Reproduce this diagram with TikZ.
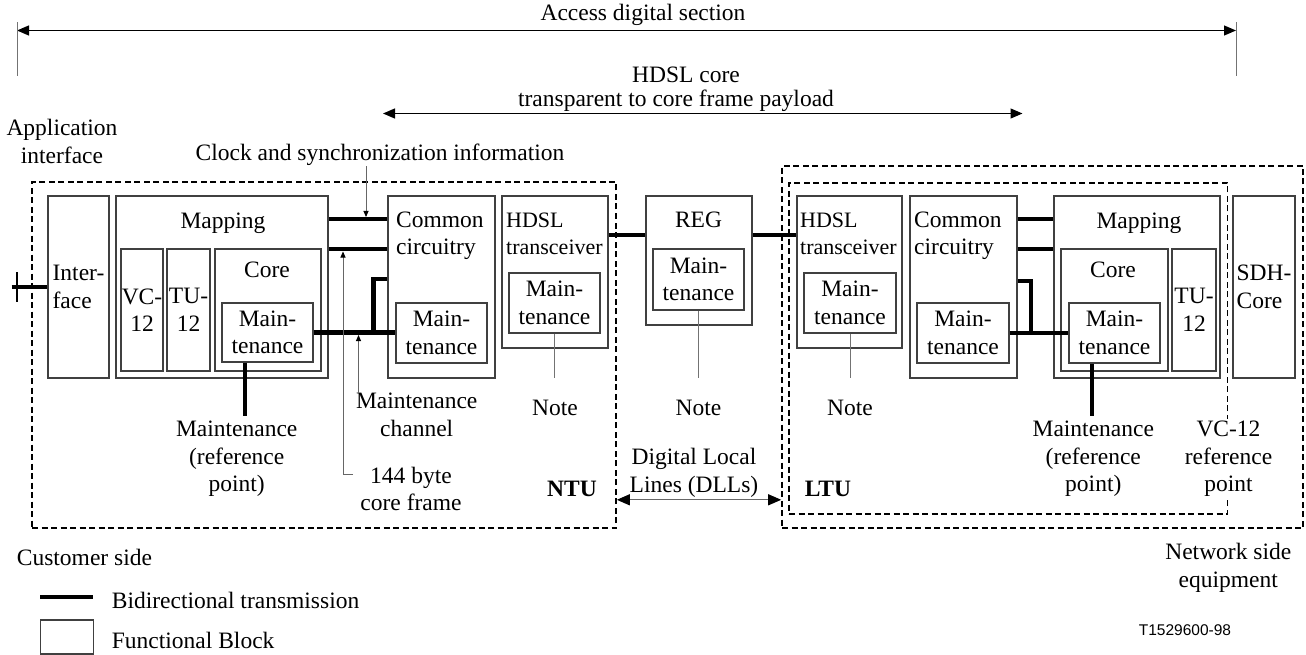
\documentclass[tikz,border=0pt]{standalone}
\usepackage{fontspec}
\setmainfont{Liberation Serif}
\newfontfamily\figsans{Liberation Sans}
\usetikzlibrary{arrows.meta, positioning}

\begin{document}
\begin{tikzpicture}[x=1pt, y=-1pt,
  font=\fontsize{23.5}{27.5}\selectfont,
  fblock/.style={draw=black!75, line width=1.1pt, inner sep=0pt, align=center},
  unitbox/.style={draw, line width=1.6pt, dash pattern=on 6pt off 3.5pt, inner sep=0pt},
  bidir/.style={line width=4.3pt},
  pointer/.style={draw=black!60, line width=0.9pt, -{Triangle[length=6pt, width=5pt, color=black]}},
  noteline/.style={draw=black!55, line width=1pt},
  span/.style={line width=1.2pt, {Triangle[length=12pt, width=10pt]}-{Triangle[length=12pt, width=10pt]}},
  dllspan/.style={draw=black!60, line width=1.2pt, {Triangle[length=13pt, width=11pt, color=black]}-{Triangle[length=13pt, width=11pt, color=black]}},
  txt/.style={inner sep=0pt, align=center},
  trxtxt/.style={txt, anchor=west, align=left, font=\fontsize{22}{27.5}\selectfont}
]
\useasboundingbox (0,0) rectangle (1306,655);

% spans at the top
\coordinate (accL) at (17,30.5);
\coordinate (accR) at (1236,30.5);
\draw[span] (accL) -- (accR);
\draw[noteline] (accL) ++(0,-8) -- ++(0,53.5);
\draw[noteline] (accR) ++(0,-8) -- ++(0,53.5);
\node[txt] (acctxt) at (643,15) {Access digital section};
\coordinate (coreA) at (383,113.5);
\coordinate (coreB) at (1022.5,113.5);
\draw[span] (coreA) -- (coreB);
\node[txt] (hdsltxt) at (686,75) {HDSL core};
\node[txt] (transptxt) at (676,101) {transparent to core frame payload};
\node[txt] (apptxt) at (62,141.5) {Application\\interface};
\node[txt] (clktxt) at (380,155) {Clock and synchronization information};

% NTU
\node[unitbox, minimum width=584pt, minimum height=346pt] (ntu) at (324,355) {};
\node[fblock, align=left, minimum width=61pt, minimum height=182pt] (ifaceL) at (78.5,287) {Inter-\\face};
\node[fblock, minimum width=212pt, minimum height=182pt] (mapL) at (222,287) {};
\node[txt] (mapLtxt) at (223,223) {Mapping};
\node[fblock, minimum width=42pt, minimum height=122pt] (vcL) at (142,310) {VC-\\12};
\node[fblock, minimum width=43pt, minimum height=122pt] (tuL) at (188.5,310) {TU-\\12};
\node[fblock, minimum width=106pt, minimum height=122pt] (coreL) at (268,310) {};
\node[txt] (coreLtxt) at (267,270) {Core};
\node[fblock, minimum width=91pt, minimum height=59pt] (cmntL) at (267.5,332.5) {Main-\\tenance};
\node[fblock, minimum width=107pt, minimum height=182pt] (comL) at (441.5,287) {};
\node[txt, anchor=west, align=left] (comLtxt) at (396,236) {Common\\circuitry};
\node[fblock, minimum width=91pt, minimum height=60pt] (commntL) at (441.5,333) {Main-\\tenance};
\node[fblock, minimum width=106pt, minimum height=152pt] (hdslL) at (555,272) {};
\node[trxtxt] (hdslLtxt) at (506,234) {HDSL\\transceiver};
\node[fblock, minimum width=91pt, minimum height=60pt] (hmntL) at (554.5,303) {Main-\\tenance};

% regenerator
\node[fblock, minimum width=106pt, minimum height=129pt] (reg) at (699,260.5) {};
\node[txt] (regtxt) at (698.5,220) {REG};
\node[fblock, minimum width=91pt, minimum height=61pt] (rmnt) at (698.5,279.5) {Main-\\tenance};

% LTU
\node[unitbox, minimum width=521pt, minimum height=362pt] (ltuO) at (1042.5,347) {};
\node[unitbox, minimum width=438.5pt, minimum height=331pt] (ltuI) at (1008.25,348.5) {};
\node[fblock, minimum width=105pt, minimum height=152pt] (hdslR) at (849.5,272) {};
\node[trxtxt] (hdslRtxt) at (800,234) {HDSL\\transceiver};
\node[fblock, minimum width=92pt, minimum height=60pt] (hmntR) at (850,303) {Main-\\tenance};
\node[fblock, minimum width=107pt, minimum height=182pt] (comR) at (963.5,287) {};
\node[txt, anchor=west, align=left] (comRtxt) at (914,236) {Common\\circuitry};
\node[fblock, minimum width=92pt, minimum height=60pt] (commntR) at (963,333) {Main-\\tenance};
\node[fblock, minimum width=166pt, minimum height=182pt] (mapR) at (1137,287) {};
\node[txt] (mapRtxt) at (1139,223) {Mapping};
\node[fblock, minimum width=107pt, minimum height=122pt] (coreR) at (1114.5,310) {};
\node[txt] (coreRtxt) at (1113,270) {Core};
\node[fblock, minimum width=91pt, minimum height=60pt] (cmntR) at (1114.5,333) {Main-\\tenance};
\node[fblock, minimum width=44pt, minimum height=122pt] (tuR) at (1194,310) {TU-\\12};
\node[fblock, align=left, minimum width=62pt, minimum height=182pt] (sdh) at (1264,287) {SDH-\\Core};

% transmission paths
\coordinate (clk) at (366,219);
\coordinate (frm) at (343,249);
\coordinate (dll) at (0,235);
\coordinate (noteend) at (0,378);
\coordinate (ext) at (11.5,287);
\coordinate (extmark) at (17,287);
\draw[bidir] (ext) -- (ifaceL.west);
\draw[line width=2.7pt] (extmark) ++(0,-15) -- ++(0,30);
\draw[bidir] (mapL.east |- clk) -- (comL.west |- clk);
\draw[bidir] (mapL.east |- frm) -- (comL.west |- frm);
\draw[bidir] (cmntL.east) -- (cmntL.east -| commntL.west);
\coordinate (brL) at (373.5,333);
\draw[bidir] (brL) |- ([yshift=8pt]comL.west);
\coordinate (mrefL) at (245,416);
\draw[bidir] (cmntL.south -| mrefL) -- (mrefL);
\draw[bidir] (hdslL.east |- dll) -- (reg.west |- dll);
\draw[bidir] (reg.east |- dll) -- (hdslR.west |- dll);
\draw[bidir] (comR.east |- clk) -- (mapR.west |- clk);
\draw[bidir] (comR.east |- frm) -- (mapR.west |- frm);
\draw[bidir] (commntR.east) -- (commntR.east -| cmntR.west);
\coordinate (brR) at (1031,333);
\draw[bidir] (brR) |- ([yshift=6pt]comR.east);
\coordinate (mrefR) at (1092,416);
\draw[bidir] (cmntR.south -| mrefR) -- (mrefR);

% pointers and notes
\node[txt] (mchtxt) at (416.7,415) {Maintenance\\channel};
\node[txt] (frmtxt) at (411,489) {144 byte\\core frame};
\coordinate (mch) at (358.5,335);
\coordinate (frmtail) at (353,474);
\draw[pointer] (clk |- clktxt.south) -- ([yshift=2pt]clk);
\draw[pointer] (mch |- mchtxt.north) -- (mch);
\draw[pointer] (frmtail) -| ([yshift=-2.5pt]frm);
\draw[noteline] (hmntL.south) -- (hmntL.south |- noteend);
\draw[noteline] (rmnt.south) -- (rmnt.south |- noteend);
\draw[noteline] (hmntR.south) -- (hmntR.south |- noteend);
\node[txt] (noteL) at (555,408) {Note};
\node[txt] (noteM) at (698.5,408) {Note};
\node[txt] (noteR) at (850,408) {Note};
\node[txt] (mrefLtxt) at (236.7,459) {Maintenance\\(reference\\point)};
\node[txt] (mrefRtxt) at (1093.3,459) {Maintenance\\(reference\\point)};
\node[txt, fill=white, inner sep=2pt] (vcref) at (1228.5,459) {VC-12\\reference\\point};

% digital local lines
\node[txt] (ntulbl) at (572,489) {\textbf{NTU}};
\node[txt] (ltulbl) at (828,489) {\textbf{LTU}};
\node[txt] (dlltxt) at (694,473) {Digital Local\\Lines (DLLs)};
\draw[dllspan] ([yshift=29pt]ntu.south east) -- ([yshift=29pt]ltuO.south west);

% sides and legend
\node[txt, anchor=west] (custtxt) at (16.7,557) {Customer side};
\node[txt] (nettxt) at (1228.3,568) {Network side\\equipment};
\node[txt, font=\figsans\fontsize{15.5}{18}\selectfont] (figid) at (1185,630) {T1529600-98};
\coordinate (lgA) at (40,597);
\draw[bidir] (lgA) -- ++(53.3,0);
\node[fblock, minimum width=52.6pt, minimum height=34pt] (lgbox) at (67,637) {};
\node[txt, anchor=west] (lgbid) at (111.7,600) {Bidirectional transmission};
\node[txt, anchor=west] (lgblk) at (111.7,640) {Functional Block};
\end{tikzpicture}
\end{document}
